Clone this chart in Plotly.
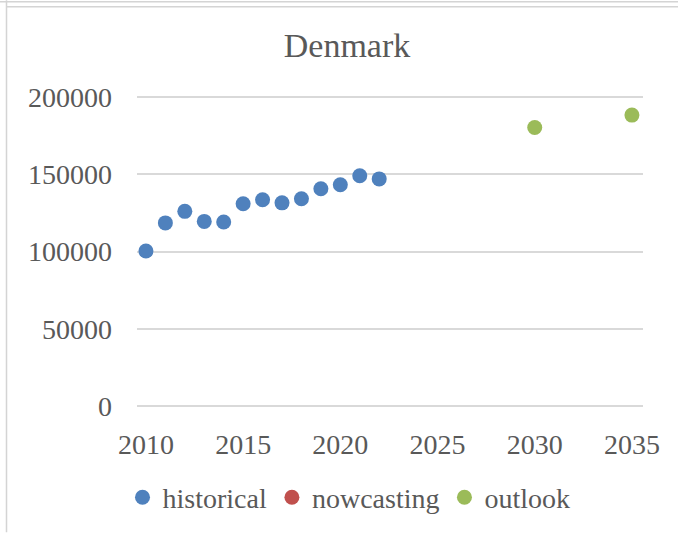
import plotly.graph_objects as go

# data
hist_years = [2010, 2011, 2012, 2013, 2014, 2015, 2016, 2017, 2018, 2019, 2020, 2021, 2022]
hist_values = [100300, 118500, 126000, 119500, 119100, 130900, 133500, 131500, 134100, 140600, 143200, 149000, 147000]
now_years = []
now_values = []
out_years = [2030, 2035]
out_values = [180300, 188300]
x_ticks = [2010, 2015, 2020, 2025, 2030, 2035]
y_ticks = [0, 50000, 100000, 150000, 200000]

W, H = 678, 533
PAD_V = 2600  # value padding so the edge gridlines are drawn
ppu = 77.4 / 50000.0
L, R = 137, 643
T = 97 - PAD_V * ppu
B = 406.5 + PAD_V * ppu
pw, ph = R - L, B - T

def px(x):
    return (x - L) / pw

def py(y):
    return (B - y) / ph

FONT = "Liberation Serif"
TXT = "#595959"

fig = go.Figure()
fig.add_trace(go.Scatter(x=hist_years, y=hist_values, mode="markers", name="historical",
                         marker=dict(color="#4F81BD", size=15)))
fig.add_trace(go.Scatter(x=now_years or [None], y=now_values or [None], mode="markers",
                         name="nowcasting", marker=dict(color="#C0504D", size=15)))
fig.add_trace(go.Scatter(x=out_years, y=out_values, mode="markers", name="outlook",
                         marker=dict(color="#9BBB59", size=15)))

shapes = [
    dict(type="line", xref="paper", yref="paper", x0=px(0), x1=px(W), y0=py(1.5), y1=py(1.5),
         line=dict(color="#d4d4d4", width=1.5)),
    dict(type="line", xref="paper", yref="paper", x0=px(6.5), x1=px(W), y0=py(6.5), y1=py(6.5),
         line=dict(color="#d4d4d4", width=1.5)),
    dict(type="line", xref="paper", yref="paper", x0=px(6.5), x1=px(6.5), y0=py(0), y1=py(H),
         line=dict(color="#d4d4d4", width=1.5)),
]

fig.update_layout(
    width=W, height=H,
    margin=dict(l=L, r=W - R, t=T, b=H - B, pad=0),
    paper_bgcolor="white", plot_bgcolor="white",
    font=dict(family=FONT, color=TXT, size=28),
    title=dict(text="Denmark", x=347 / W, xref="container", xanchor="center",
               y=1 - 45 / H, yref="container", yanchor="middle",
               font=dict(family=FONT, size=34, color=TXT)),
    showlegend=True,
    legend=dict(orientation="h", x=px(349), xanchor="center", y=py(497), yanchor="middle",
                font=dict(family=FONT, size=28, color=TXT), itemwidth=30,
                bgcolor="rgba(0,0,0,0)"),
    shapes=shapes,
)
fig.update_xaxes(range=[2009.54, 2035.57], tickmode="array", tickvals=x_ticks,
                 ticktext=[str(v) for v in x_ticks], showgrid=False, zeroline=False,
                 showline=False, ticks="", ticklabelstandoff=15,
                 tickfont=dict(family=FONT, size=28, color=TXT))
fig.update_yaxes(range=[-PAD_V, 200000 + PAD_V], tickmode="array", tickvals=y_ticks,
                 ticktext=[str(v) for v in y_ticks], showgrid=True, gridcolor="#d9d9d9",
                 gridwidth=1.5, zeroline=False, showline=False, ticks="",
                 ticklabelstandoff=24, tickfont=dict(family=FONT, size=28, color=TXT))

fig.write_html("out.html", config={"displayModeBar": False},
               post_script="document.body.style.margin='0';")
